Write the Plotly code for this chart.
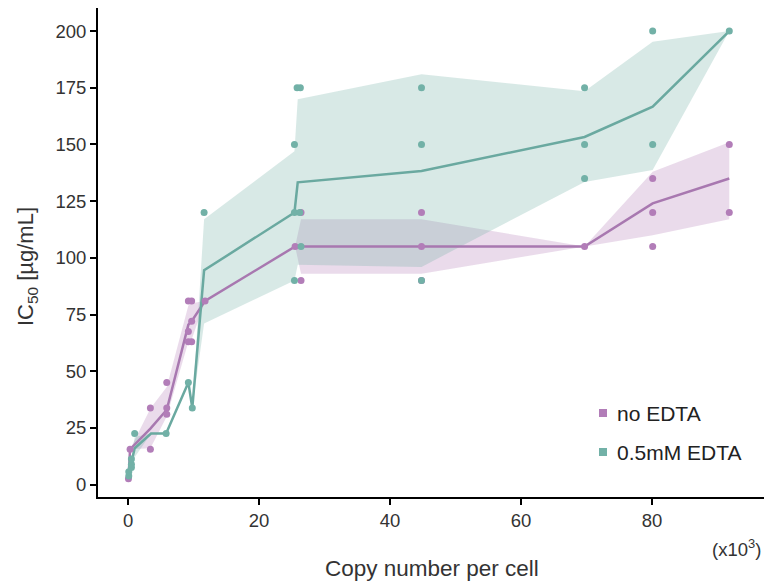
import plotly.graph_objects as go

# ---------------- data (x in units of 10^3 copies/cell, IC50 in µg/mL) ----------------
# no EDTA: individual measurements
noedta_x = [0.05, 0.3, 3.4, 3.4, 5.9, 5.9, 5.9, 9.2, 9.2, 9.2, 9.7, 9.7, 9.7, 11.75,
            25.5, 26.4, 26.4, 44.8, 44.8, 44.8, 69.7, 80.1, 80.1, 80.1, 91.8, 91.8]
noedta_y = [2.5, 15.6, 15.6, 33.75, 45, 33.75, 31, 81, 67.5, 63, 81, 72, 63, 81,
            105, 90, 120, 120, 105, 90, 105, 135, 120, 105, 150, 120]
# no EDTA: group mean line and confidence band
noedta_gx = [0.05, 0.3, 3.4, 5.9, 9.2, 9.7, 11.75, 25.5, 26.4, 44.8, 69.7, 80.1, 91.8]
noedta_mean = [2.5, 15.6, 24.7, 33, 70.5, 72, 81, 105, 105, 105, 105, 124, 135]
noedta_lo = [2.5, 15.6, 16, 30, 63, 64, 81, 105, 93, 93, 105, 110, 117]
noedta_hi = [2.5, 15.6, 33.5, 43, 79, 80, 81, 105, 117, 117, 105, 138, 151]

# 0.5mM EDTA: individual measurements
edta_x = [0.1, 0.1, 0.5, 0.5, 0.5, 1.0, 5.8, 9.2, 9.8, 11.6,
          25.4, 25.4, 25.4, 25.8, 26.3, 26.2, 26.4,
          44.8, 44.8, 44.8, 69.7, 69.7, 69.7, 80.1, 80.1, 91.8]
edta_y = [3.75, 5.6, 7.5, 9, 11.25, 22.5, 22.5, 45, 33.75, 120,
          150, 120, 90, 175, 175, 120, 105,
          175, 150, 90, 175, 150, 135, 200, 150, 200]
# 0.5mM EDTA: group mean line and confidence band
edta_gx = [0.1, 0.5, 1.0, 3.5, 5.8, 9.2, 9.8, 11.6, 25.4, 25.9, 44.8, 69.7, 80.1, 91.8]
edta_mean = [4.7, 9.25, 16, 22.5, 22.5, 45, 33.75, 94.5, 120, 133.3, 138.3, 153.3, 166.7, 200]
edta_lo = [3.75, 7.5, 12, 22.5, 22.5, 45, 33.75, 71, 90, 97, 96, 133.5, 138.7, 200]
edta_hi = [5.6, 11.25, 21, 22.5, 22.5, 45, 33.75, 117, 147, 170, 181, 173.5, 195.3, 200]

series_names = ["no EDTA", "0.5mM EDTA"]
x_ticks = [0, 20, 40, 60, 80]
y_ticks = [0, 25, 50, 75, 100, 125, 150, 175, 200]

# ---------------- styling ----------------
PUR_PT, PUR_LN, PUR_BAND = "#b27db8", "#a878b0", "rgba(178,125,184,0.28)"
TEA_PT, TEA_LN, TEA_BAND = "#72b1a7", "#6aa9a0", "rgba(114,177,167,0.28)"
FONT = "Liberation Sans, Arial, sans-serif"
TXT = "#333333"

W, H = 764, 583
L, R, T, B = 98, 0, 8, 86
PW, PH = W - L - R, H - T - B


def px(x):
    return (x - L) / PW


def py(y):
    return (H - B - y) / PH


fig = go.Figure()


def band(gx, lo, hi, color):
    fig.add_trace(go.Scatter(x=list(gx) + list(gx)[::-1], y=list(hi) + list(lo)[::-1],
                             fill="toself", fillcolor=color, line=dict(width=0),
                             mode="lines", hoverinfo="skip", showlegend=False))


band(noedta_gx, noedta_lo, noedta_hi, PUR_BAND)
band(edta_gx, edta_lo, edta_hi, TEA_BAND)

fig.add_trace(go.Scatter(x=noedta_gx, y=noedta_mean, mode="lines",
                         line=dict(color=PUR_LN, width=2.5), showlegend=False))
fig.add_trace(go.Scatter(x=edta_gx, y=edta_mean, mode="lines",
                         line=dict(color=TEA_LN, width=2.5), showlegend=False))
fig.add_trace(go.Scatter(x=noedta_x, y=noedta_y, mode="markers", name=series_names[0],
                         marker=dict(color=PUR_PT, size=7), showlegend=False))
fig.add_trace(go.Scatter(x=edta_x, y=edta_y, mode="markers", name=series_names[1],
                         marker=dict(color=TEA_PT, size=7), showlegend=False))

axis_common = dict(showgrid=False, zeroline=False, showline=True, linecolor="black",
                   linewidth=2, ticks="outside", ticklen=6, tickwidth=1.5,
                   tickcolor="black", tickfont=dict(family=FONT, size=18.5, color=TXT))

fig.update_layout(
    width=W, height=H, margin=dict(l=L, r=R, t=T, b=B),
    paper_bgcolor="white", plot_bgcolor="white",
    xaxis=dict(range=[-4.6, 97.1], tickvals=x_ticks, **axis_common),
    yaxis=dict(range=[-5.5, 210.2], tickvals=y_ticks, **axis_common),
    showlegend=False,
)

ann = []
ann.append(dict(text="IC<sub>50</sub> [µg/mL]", textangle=-90, x=px(27), y=py(267),
                xref="paper", yref="paper", xanchor="center", yanchor="middle",
                showarrow=False, font=dict(family=FONT, size=22, color=TXT)))
ann.append(dict(text="Copy number per cell", x=px(432), y=py(568), xref="paper", yref="paper",
                xanchor="center", yanchor="middle",
                showarrow=False, font=dict(family=FONT, size=22.5, color=TXT)))
ann.append(dict(text="(x10<sup>3</sup>)", x=px(763), y=py(548), xref="paper", yref="paper",
                xanchor="right", yanchor="middle", showarrow=False,
                font=dict(family=FONT, size=18.5, color=TXT)))

shapes = []
for name, col, cy in [(series_names[0], PUR_PT, 413), (series_names[1], TEA_PT, 452)]:
    shapes.append(dict(type="rect", xref="paper", yref="paper",
                       x0=px(599), x1=px(607), y0=py(cy + 4), y1=py(cy - 4),
                       fillcolor=col, line=dict(width=0)))
    ann.append(dict(text=name, x=px(615), y=py(cy), xref="paper", yref="paper",
                    xanchor="left", yanchor="middle", showarrow=False,
                    font=dict(family=FONT, size=21, color="#222222")))

fig.update_layout(annotations=ann, shapes=shapes)
fig.write_html("out.html")
